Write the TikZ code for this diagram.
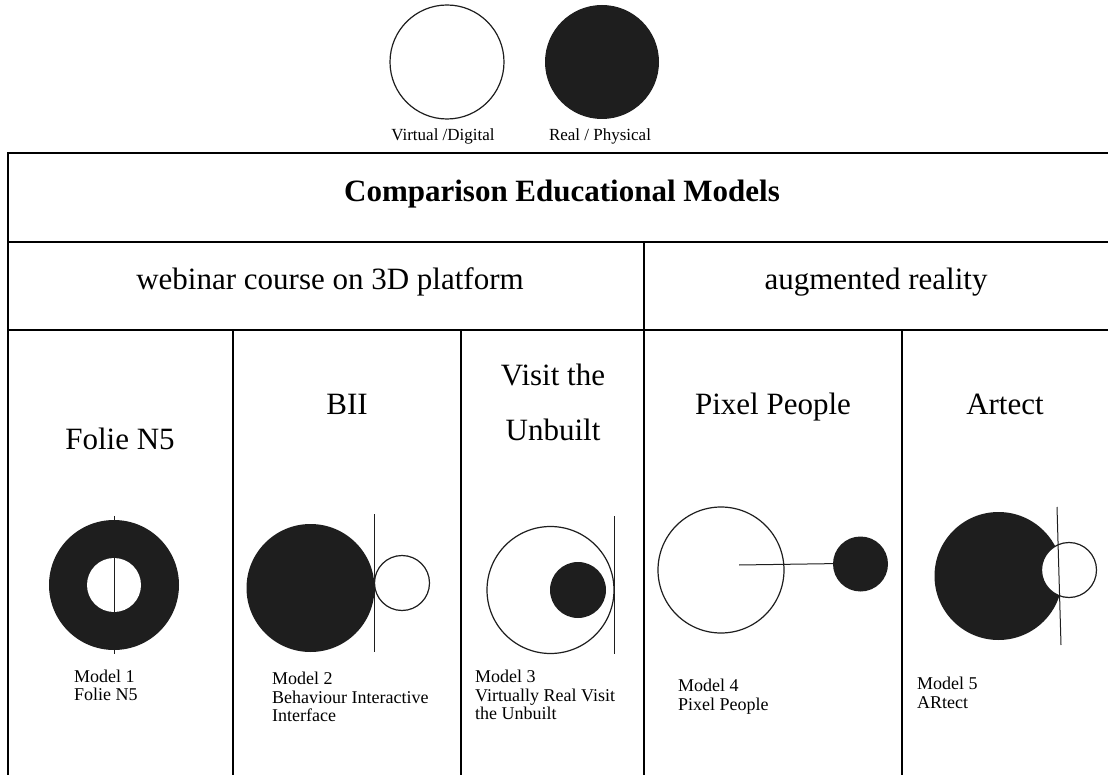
\documentclass[tikz,border=0pt]{standalone}
\usepackage{fontspec}
\setmainfont{Liberation Serif}
\definecolor{ink}{RGB}{30,30,30}
\begin{document}
\begin{tikzpicture}[x=1pt, y=-1pt,
    rule/.style={line width=2.6pt},
    colrule/.style={line width=2.2pt},
    virt/.style={circle, draw=ink, line width=1.2pt, fill=white, inner sep=0pt},
    phys/.style={circle, fill=ink, inner sep=0pt},
    axis/.style={draw=ink, line width=1pt},
    big/.style={font=\fontsize{31}{37}\selectfont, inner sep=0pt},
    small/.style={font=\fontsize{18}{18.5}\selectfont, align=left, anchor=north west, inner sep=0pt},
    key/.style={font=\fontsize{17}{19}\selectfont, inner sep=0pt}]
    \useasboundingbox (0,0) rectangle (1108,775);
    \begin{scope}
        \node[virt, minimum size=114pt] (keyvirt) at (447,62) {};
        \node[phys, minimum size=114pt] (keyphys) at (602,62) {};
        \node[key, anchor=base] (keyvirtlbl) at (443,141) {Virtual /Digital};
        \node[key, anchor=base] (keyphyslbl) at (600,141) {Real / Physical};
    \end{scope}
    \draw[rule] (8,775) -- (8,153) -- (1108,153);
    \draw[rule] (8,242) -- (1108,242); \draw[rule] (8,330) -- (1108,330);
    \draw[colrule] (644,242) -- (644,775);
    \foreach \x in {233,461,902} \draw[colrule] (\x,330) -- (\x,775);
    \node[big, font=\bfseries\fontsize{31}{37}\selectfont, anchor=base] (title) at (562,202) {Comparison Educational Models};
    \node[big, anchor=base] (webinar) at (330,290) {webinar course on 3D platform};
    \node[big, anchor=base] (augmented) at (876,290) {augmented reality};
    \node[big, anchor=base] (t1) at (120,449) {Folie N5};
    \node[big, anchor=base] (t2) at (347,414) {BII};
    \node[big, font=\fontsize{31}{55}\selectfont, anchor=north, align=center] (t3) at (553,363.5) {Visit the\\Unbuilt};
    \node[big, anchor=base] (t4) at (773,414) {Pixel People};
    \node[big, anchor=base] (t5) at (1005,414) {Artect};
    \begin{scope}
        \node[phys, minimum size=130pt] (m1out) at (114,585) {};
        \fill[white] (m1out.center) circle (27);
        \draw[axis] ([yshift=4pt]m1out.north) -- ([yshift=-4pt]m1out.south);
        \node[small] (l1) at (74,669.5) {Model 1\\Folie N5};
    \end{scope}
    \begin{scope}
        \node[phys, minimum size=128pt] (m2phys) at (310.5,588) {};
        \node[virt, minimum size=55pt] (m2virt) at (402,583) {};
        \draw[axis] (m2phys.east |- 0,514) -- (m2phys.east |- 0,652);
        \node[small] (l2) at (272,672) {Model 2\\Behaviour Interactive\\Interface};
    \end{scope}
    \begin{scope}
        \node[virt, minimum size=127pt] (m3virt) at (550.5,590) {};
        \node[phys, minimum size=56pt] (m3phys) at (578,590) {};
        \draw[axis] (m3virt.east |- 0,516) -- (m3virt.east |- 0,654);
        \node[small] (l3) at (475,670) {Model 3\\Virtually Real Visit\\the Unbuilt};
    \end{scope}
    \begin{scope}
        \node[virt, minimum size=126pt] (m4virt) at (721,570) {};
        \node[phys, minimum size=55pt] (m4phys) at (860.5,564) {};
        \draw[axis] ([xshift=18pt, yshift=5pt]m4virt.center) -- ([xshift=15pt, yshift=1pt]m4phys.center);
        \node[small] (l4) at (678,679) {Model 4\\Pixel People};
    \end{scope}
    \begin{scope}
        \node[phys, minimum size=128pt] (m5phys) at (998.5,576) {};
        \node[virt, minimum size=55pt] (m5virt) at (1069,570) {};
        \coordinate (m5top) at (1057,507); \coordinate (m5bot) at (1061,645);
        \draw[axis] (m5top) -- (m5bot);
        \node[small] (l5) at (917,677) {Model 5\\ARtect};
    \end{scope}
\end{tikzpicture}
\end{document}
